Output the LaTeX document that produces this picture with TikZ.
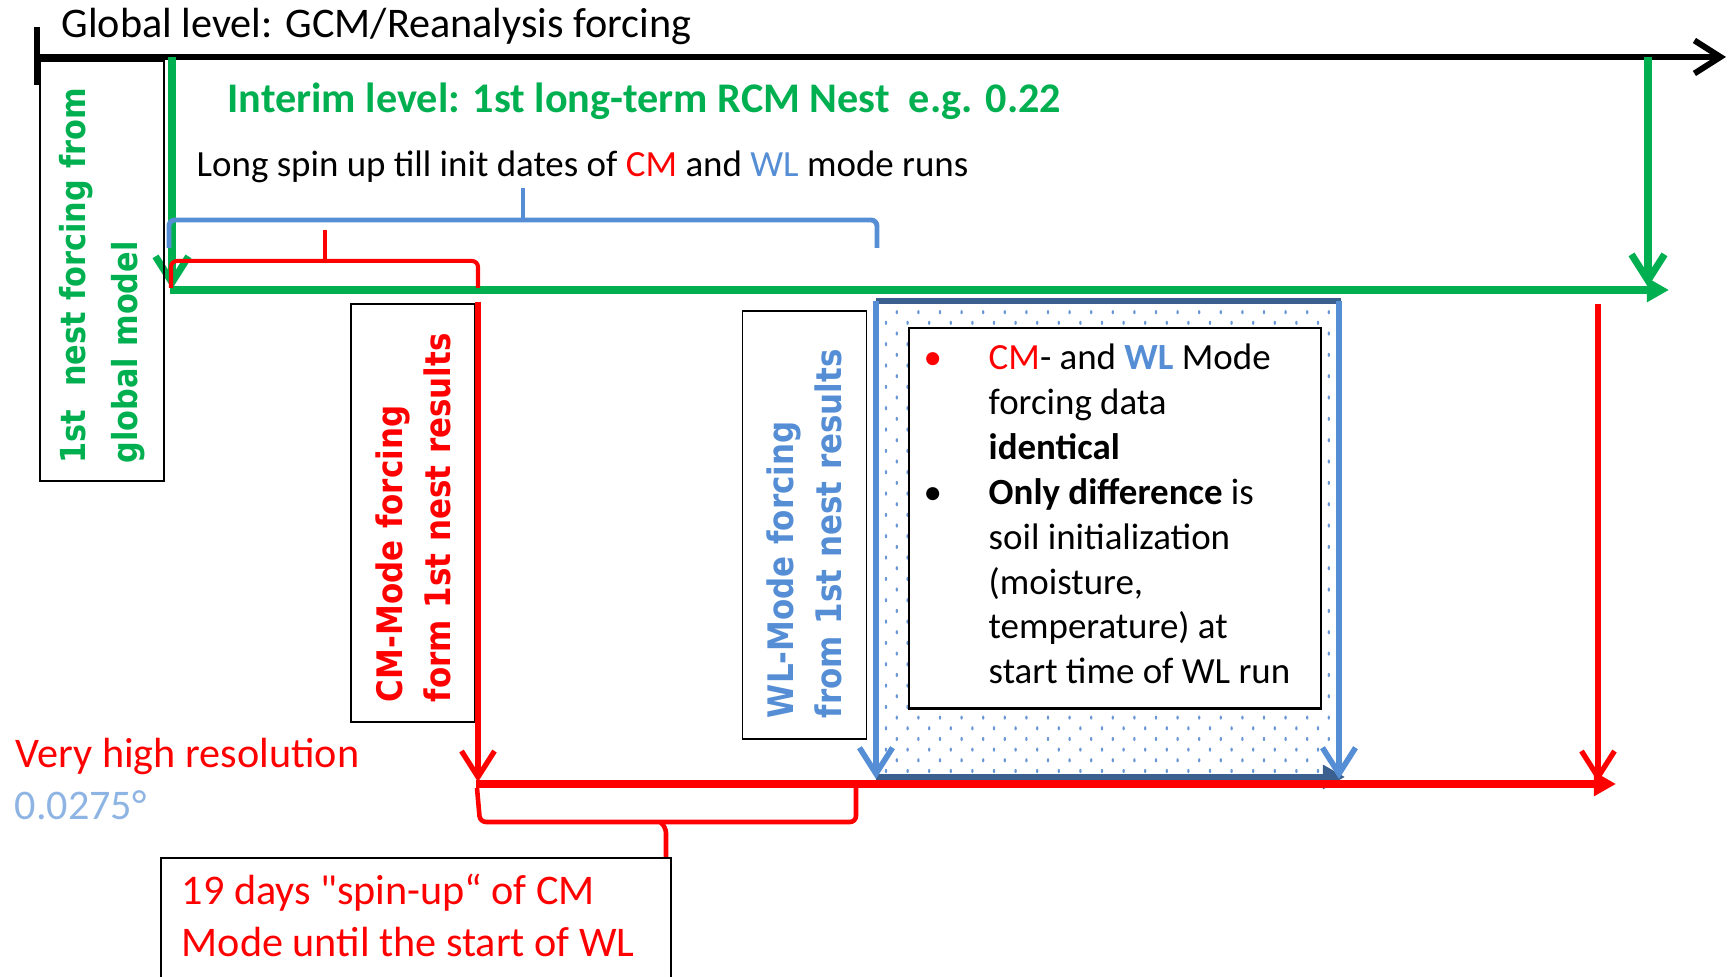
\documentclass[tikz,border=0pt]{standalone}
\usepackage{fontspec}
\setmainfont{Carlito}
\newfontfamily\rotfont[FakeStretch=0.88]{DejaVu Sans}
\usetikzlibrary{arrows.meta}
\definecolor{nestgreen}{HTML}{00B050}
\definecolor{cmred}{HTML}{FF0000}
\definecolor{wlblue}{HTML}{558ED5}
\definecolor{resblue}{HTML}{8EB4E3}
\definecolor{edgeblue}{HTML}{3B5F8E}
\definecolor{dotblue}{HTML}{6A97D6}
\tikzset{
  vee/.style   = {-{Straight Barb[length=2.6mm, width=3.3mm]}},
  tri/.style   = {-{Triangle[length=2.2mm, width=2.3mm]}},
  brk/.style   = {rounded corners=0.6mm},
  box/.style   = {draw, line width=0.45pt, inner sep=0pt},
  rbox/.style  = {box, rotate=90, align=left, minimum height=1.24cm,
                  inner ysep=0pt,
                  font=\rotfont\bfseries\fontsize{10}{13.7}\selectfont},
  txt/.style   = {anchor=base west, inner sep=0pt,
                  font=\fontsize{12}{14.7}\selectfont},
}

\begin{document}
\begin{tikzpicture}[x=0.01cm, y=0.01cm]
  \clip (0,0) rectangle (1735,977);
  % global level
  \coordinate (gtop) at (37,950);
  \coordinate (gbot) at (37,892);
  \coordinate (g0)   at (37,920);
  \coordinate (g1)   at (1726,920);
  \node[txt] (glob) at (61,939) {Global level: GCM/Reanalysis forcing};
  \draw[line width=1.7pt] (gtop) -- (gbot);
  \draw[line width=1.7pt, vee] (g0) -- (g1);
  % interim level
  \coordinate (i0)  at (172,920);
  \coordinate (i0d) at (172,688);
  \coordinate (ia)  at (170,687);
  \coordinate (ib)  at (1669,687);
  \coordinate (i1)  at (1648,920);
  \coordinate (i1d) at (1648,690);
  \node[txt, text=nestgreen, font=\bfseries\fontsize{12}{14.7}\selectfont]
    (interim) at (227,864) {Interim level: 1st long-term RCM Nest\ \ e.g. 0.22};
  \node[txt, font=\fontsize{10.5}{12.75}\selectfont] (spinup) at (196,800)
    {Long spin up till init dates of \textcolor{cmred}{CM} and \textcolor{wlblue}{WL} mode runs};
  \draw[nestgreen, line width=2pt, vee] (i0) -- (i0d);
  \draw[nestgreen, line width=2pt, vee] (i1) -- (i1d);
  \draw[nestgreen, line width=2.2pt, tri] (ia) -- (ib);
  % spin-up brackets
  \draw[wlblue, line width=1.4pt, brk] (169,729) |- (523,757) -| (877,729);
  \draw[wlblue, line width=1.4pt] (523,757) -- (523,789);
  \draw[cmred, line width=1.15pt, brk] (171,689) |- (325,716) -| (478,689);
  \draw[cmred, line width=1.15pt] (325,716) -- (325,747);
  % forcing boxes
  \node[rbox, text=nestgreen, minimum width=4.2cm, text width=3.85cm, inner xsep=1.75mm,
        font=\rotfont\bfseries\fontsize{9.8}{14.6}\selectfont]
    (gbox) at (102,706) {1st\ \ nest forcing from\\global model};
  \node[rbox, text=cmred, minimum width=4.18cm, text width=3.78cm, inner xsep=2mm]
    (cmbox) at (413,464) {CM-Mode forcing\\form 1st nest results};
  \node[rbox, text=wlblue, minimum width=4.28cm, text width=3.86cm, inner xsep=2.1mm]
    (wlbox) at (804.5,452) {WL-Mode forcing\\from 1st nest results};
  % WL run area
  \foreach \r in {0,...,43}
    \foreach \c in {0,...,20}
      \fill[dotblue] ({886+21.6*\c+10.8*mod(\r,2)},{206+10.67*\r})
        ellipse [x radius=1.2, y radius=2.1];
  \coordinate (wa) at (876,676);
  \coordinate (wb) at (1341,676);
  \coordinate (wc) at (876,200);
  \coordinate (wd) at (1345,200);
  \coordinate (wl) at (876,198);
  \coordinate (wr) at (1339,198);
  \coordinate (wrt) at (1339,676);
  \draw[edgeblue, line width=1.6pt] (wa) -- (wb);
  \draw[edgeblue, line width=1.6pt, tri] (wc) -- (wd);
  \draw[wlblue, line width=1.6pt, vee] (wa) -- (wl);
  \draw[wlblue, line width=1.6pt, vee] (wrt) -- (wr);
  \node[box, fill=white, line width=0.7pt, anchor=north west,
        minimum width=4.12cm, minimum height=3.8cm] (note) at (907.6,650) {};
  \node[anchor=base west, inner sep=0pt, font=\fontsize{10.5}{12.75}\selectfont]
    (notetxt) at (923,607) {%
    \begin{tabular}[t]{@{}l@{}l@{}}
      \makebox[0.65cm][l]{\textcolor{cmred}{•}} & \textcolor{cmred}{CM}- and \textbf{\textcolor{wlblue}{WL}} Mode\\
      & forcing data\\
      & \textbf{identical}\\
      \makebox[0.65cm][l]{•} & \textbf{Only difference} is\\
      & soil initialization\\
      & (moisture,\\
      & temperature) at\\
      & start time of WL run
    \end{tabular}};
  % very high resolution level
  \coordinate (r0)  at (478,675);
  \coordinate (r0d) at (478,195);
  \coordinate (r1)  at (1598,673);
  \coordinate (r1d) at (1598,195);
  \coordinate (ra)  at (476,193);
  \coordinate (rb)  at (1616,193);
  \draw[cmred, line width=1.5pt, vee] (r0) -- (r0d);
  \draw[cmred, line width=1.5pt, vee] (r1) -- (r1d);
  \draw[cmred, line width=2.3pt, tri] (ra) -- (rb);
  \node[txt, text=cmred] (vhr) at (15,209) {Very high resolution};
  \node[txt, text=resblue] (res) at (14,157) {0.0275°};
  % CM spin-up before WL start
  \node[box, anchor=north west, minimum width=5.1cm, minimum height=1.6cm]
    (spinbox) at (160,120) {};
  \draw[cmred, line width=1.3pt, brk] (477,189) -- (480,155) -- (856,155) -- (856,189);
  \draw[cmred, line width=1.3pt, brk] (660,155) -- (666,150) -- (spinbox.north -| 666,0);
  \node[txt, text=cmred] (spintxt) at (181,72)
    {\addfontfeatures{Ligatures=TeXOff}%
     \begin{tabular}[t]{@{}l@{}}19 days "spin-up“ of CM\\Mode until the start of WL\end{tabular}};
\end{tikzpicture}
\end{document}
